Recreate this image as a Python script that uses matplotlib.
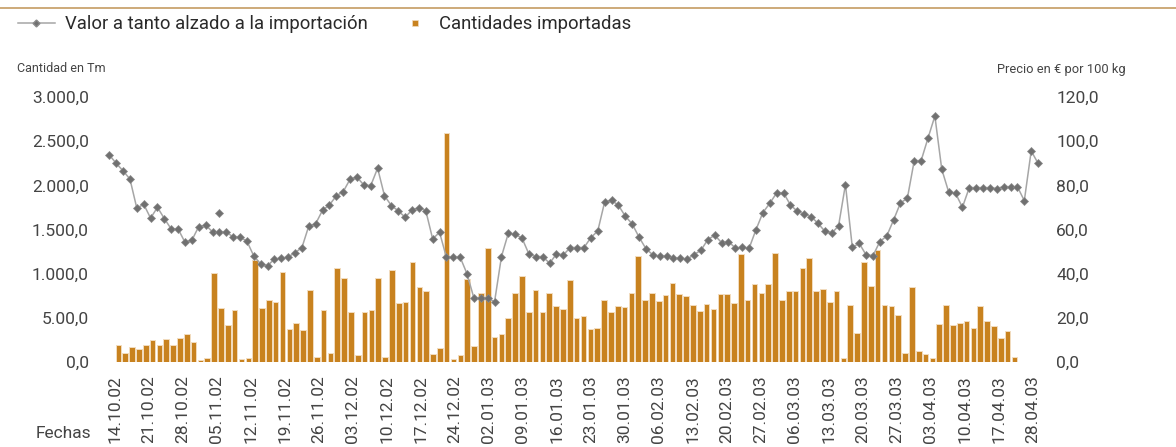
import numpy as np
import matplotlib.pyplot as plt
from matplotlib.lines import Line2D

plt.rcParams['font.family'] = ['Roboto', 'DejaVu Sans']

# Imported quantities (Tm), one bar per working day
cantidades = [196, 102, 170, 154, 199, 252, 196, 264, 196, 278, 324, 226, 26, 52,
              1010, 611, 425, 595, 34, 52, 1157, 618, 701, 679, 1018, 373, 448, 369,
              821, 60, 595, 109, 1070, 957, 572, 79, 572, 588, 957, 64, 1044, 667,
              686, 1135, 855, 810, 90, 165, 2597, 34, 83, 946, 181, 788, 1297, 283,
              324, 505, 788, 973, 572, 821, 572, 780, 640, 600, 934, 505, 524, 380,
              388, 705, 572, 640, 626, 784, 1202, 705, 784, 693, 761, 900, 776, 753,
              648, 584, 663, 606, 776, 776, 675, 1225, 705, 889, 780, 889, 1240, 705,
              810, 810, 1063, 1183, 810, 829, 682, 810, 49, 648, 335, 1135, 863, 1270,
              652, 640, 535, 105, 852, 128, 94, 52, 437, 652, 418, 448, 471, 391,
              637, 463, 411, 275, 358, 60, 8, 3, 2, 2]

# Flat-rate import value (EUR per 100 kg)
valor = [93.8, 90.0, 86.6, 82.9, 69.7, 71.5, 65.2, 70.1, 65.0, 60.3, 60.3, 54.3,
         55.2, 61.4, 62.1, 59.0, 59.0, 59.0, 56.6, 56.6, 54.8, 48.1, 44.5, 43.7,
         46.7, 47.1, 47.6, 49.6, 51.9, 61.7, 62.7, 68.8, 71.2, 75.3, 77.2, 82.8,
         83.7, 80.2, 79.9, 87.8, 75.3, 70.9, 68.5, 65.6, 68.9, 70.0, 68.6, 55.8,
         58.8, 47.5, 47.5, 47.5, 40.0, 29.0, 29.0, 29.0, 27.4, 47.8, 58.4, 57.9,
         56.1, 48.9, 47.8, 47.8, 44.8, 49.0, 48.6, 51.9, 51.9, 51.9, 56.4, 59.4,
         72.5, 73.3, 71.0, 66.1, 62.6, 56.6, 51.4, 48.6, 48.0, 48.0, 47.1, 47.1,
         46.7, 48.7, 50.7, 55.5, 57.5, 54.1, 54.6, 51.7, 52.0, 51.6, 60.0, 67.7,
         71.9, 76.6, 76.6, 71.2, 68.3, 67.0, 65.9, 62.9, 59.3, 58.4, 61.7, 80.4,
         52.0, 53.8, 48.6, 48.2, 54.6, 57.1, 64.4, 72.1, 74.2, 91.2, 91.2, 101.4,
         111.4, 87.3, 77.1, 76.5, 70.1, 79.0, 79.0, 79.0, 79.0, 78.6, 79.5, 79.4,
         79.4, 73.1, 95.6, 90.0]
# a lone extra value shown above the line
valor_extra_idx = 16
valor_extra = 67.4

fechas = ['14.10.02', '21.10.02', '28.10.02', '05.11.02', '12.11.02', '19.11.02',
          '26.11.02', '03.12.02', '10.12.02', '17.12.02', '24.12.02', '02.01.03',
          '09.01.03', '16.01.03', '23.01.03', '30.01.03', '06.02.03', '13.02.03',
          '20.02.03', '27.02.03', '06.03.03', '13.03.03', '20.03.03', '27.03.03',
          '03.04.03', '10.04.03', '17.04.03', '28.04.03']

y_left = [0, 500, 1000, 1500, 2000, 2500, 3000]
y_left_labels = ['0,0', '5.00,0', '1.000,0', '1.500,0', '2.000,0', '2.500,0', '3.000,0']
y_right = [0, 20, 40, 60, 80, 100, 120]
y_right_labels = ['0,0', '20,0', '40,0', '60,0', '80,0', '100,0', '120,0']

txt = '#444444'
bar_col = '#c8821f'

fig = plt.figure(figsize=(11.76, 4.47), dpi=100)
ax = fig.add_axes([100 / 1176, 1 - 362.3 / 447, 948 / 1176, 265.3 / 447])
ax2 = ax.twinx()

xb = np.arange(len(cantidades))
ax.bar(xb, cantidades, width=0.82, color=bar_col, edgecolor='#f2dcbf', linewidth=0.7)

# the price series sits on its own category axis, slightly shifted
xl = np.arange(len(valor)) * 1.0057 - 1.32
ax2.plot(xl, valor, color='#a6a6a6', lw=1.1, marker='D', ms=4.3,
         mfc='#707070', mec='#8a8a8a', mew=0.5)
ax2.plot([xl[valor_extra_idx]], [valor_extra], ls='none', marker='D', ms=4.3,
         mfc='#707070', mec='#8a8a8a', mew=0.5)

ax.set_xlim(-2.68, 135.9)
ax.set_ylim(0, 3000)
ax2.set_ylim(0, 120)

ax.set_xticks(np.linspace(-0.5, 133.7, len(fechas)))
ax.set_xticklabels(fechas, rotation=90, fontsize=12.5, color=txt)
ax.set_yticks(y_left)
ax.set_yticklabels(y_left_labels, fontsize=12.5, color=txt)
ax2.set_yticks(y_right)
ax2.set_yticklabels(y_right_labels, fontsize=12.5, color=txt)
ax.tick_params(axis='x', length=0, pad=9)
ax.tick_params(axis='y', length=0, pad=8)
ax2.tick_params(axis='y', length=0, pad=6)

for a in (ax, ax2):
    for s in a.spines.values():
        s.set_visible(False)

fig.text(17 / 1176, 1 - 69 / 447, 'Cantidad en Tm', fontsize=9, color=txt, va='center')
fig.text(997 / 1176, 1 - 69 / 447, 'Precio en € por 100 kg', fontsize=9.3, color=txt,
         va='center', ha='left')
fig.text(36 / 1176, 1 - 434 / 447, 'Fechas', fontsize=12.5, color=txt, va='center')

# top rule
fig.add_artist(Line2D([0, 1], [1 - 8 / 447, 1 - 8 / 447], color='#c9a46e', lw=1.3))

h_line = Line2D([], [], color='#a6a6a6', lw=1.1, marker='D', ms=3.5,
                mfc='#707070', mec='#8a8a8a')
h_bar = Line2D([], [], ls='none', marker='s', ms=5, mfc=bar_col, mec='#f2dcbf', mew=0.5)
fig.legend([h_line], ['Valor a tanto alzado a la importación'],
           loc='center left', bbox_to_anchor=(1 / 1176, 1 - 24 / 447),
           frameon=False, fontsize=13.3, labelcolor='#2a2a2a',
           handlelength=2.0, handletextpad=0.55)
fig.legend([h_bar], ['Cantidades importadas'],
           loc='center left', bbox_to_anchor=(389 / 1176, 1 - 24 / 447),
           frameon=False, fontsize=13.3, labelcolor='#2a2a2a',
           handlelength=1.0, handletextpad=0.8)

fig.savefig('out.png', dpi=100)
